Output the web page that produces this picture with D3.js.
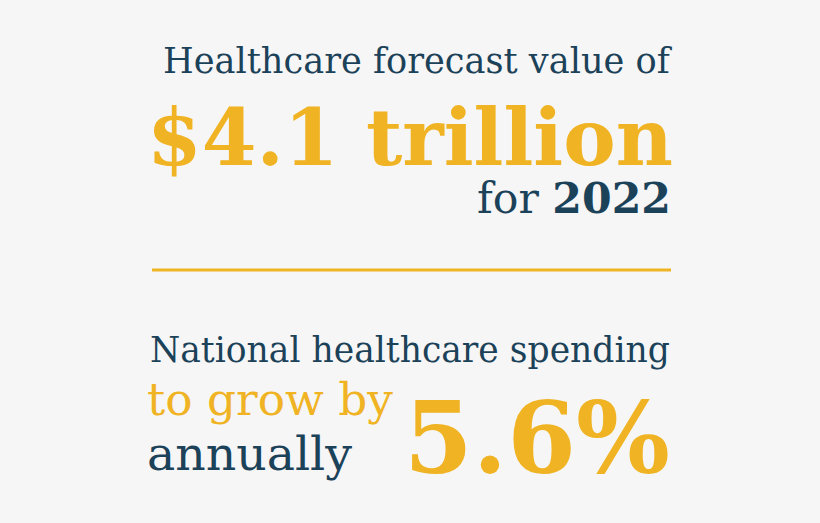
<!DOCTYPE html>
<html><head><meta charset="utf-8">
<script src="https://cdn.jsdelivr.net/npm/d3@7"></script>
<style>body{margin:0;background:#f6f6f6}</style>
</head><body>
<svg id="chart"></svg>
<script>
var navy = "#1c4259", gold = "#f0b323";
var forecastValue = "$4.1 trillion";
var forecastYear = "2022";
var growthRate = "5.6%";

var width = 820, height = 523;
var svg = d3.select("#chart").attr("width", width).attr("height", height);
svg.append("rect").attr("width", width).attr("height", height).attr("fill", "#f6f6f6");

var font = "DejaVu Serif, serif";

// place text and scale its font size so it spans [x0, x1]
function fit(x0, x1, y, weight, color, s, year) {
  var t = svg.append("text").attr("x", x0).attr("y", y)
    .attr("font-family", font).attr("font-size", 40).attr("font-weight", weight)
    .attr("fill", color).text(s);
  if (year) t.append("tspan").attr("font-weight", "bold").text(year);
  var w = t.node().getComputedTextLength();
  t.attr("font-size", 40 * (x1 - x0) / w);
  return t;
}

fit(163, 670, 73, "normal", navy, "Healthcare forecast value of");
fit(147, 673, 165, "bold", gold, forecastValue);
fit(477, 671, 213, "normal", navy, "for ", forecastYear);

svg.append("line").attr("x1", 152).attr("x2", 671).attr("y1", 270).attr("y2", 270)
  .attr("stroke", gold).attr("stroke-width", 3);

fit(150, 670, 362, "normal", navy, "National healthcare spending");
fit(147, 393, 415, "normal", gold, "to grow by");
fit(147, 352, 470, "normal", navy, "annually");
fit(404, 670, 473, "bold", gold, growthRate);
</script>
</body></html>
